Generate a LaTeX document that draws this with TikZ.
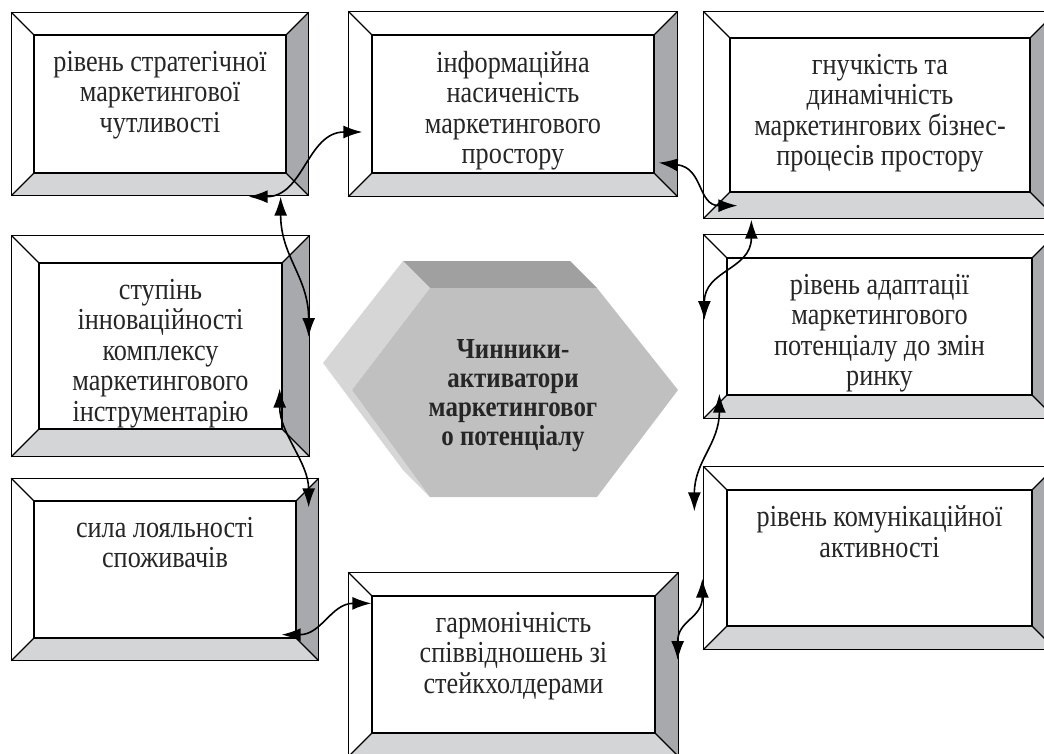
\documentclass[tikz,border=0pt]{standalone}
\usepackage{fontspec}
\setmainfont{Liberation Serif}[FakeStretch=0.86]
\usetikzlibrary{arrows.meta}
\definecolor{bevdark}{HTML}{A7A9AC}
\definecolor{bevlight}{HTML}{D4D5D7}
\definecolor{hexfront}{HTML}{C0C0C0}
\definecolor{hextop}{HTML}{A0A0A0}
\definecolor{hexside}{HTML}{D6D6D6}
\tikzset{link/.style = {line width=1.6pt,
                        arrows={Latex[length=19pt,width=13pt]-Latex[length=19pt,width=13pt]}}}
\tikzset{mbox/.style = {draw, line width=1.3pt, fill=white, inner sep=0, text=black!85,
                        font=\fontsize{30.5}{30.5}\selectfont}}
\tikzset{hub/.style = {align=center, text=black!85, font=\bfseries\fontsize{29}{29}\selectfont}}
\newcommand{\btext}[3]{\parbox[c][#2pt][t]{#1pt}{\centering\vspace*{16pt}#3}}
\newcommand{\bevframe}[2]{%
  \fill[bevdark] ([shift={(#2,-#2)}]#1.north east) -- ([shift={(#2,#2)}]#1.south east)
    -- (#1.south east) -- (#1.north east) -- cycle;
  \fill[bevlight] ([shift={(-#2,#2)}]#1.south west) -- ([shift={(#2,#2)}]#1.south east)
    -- (#1.south east) -- (#1.south west) -- cycle;
  \draw[line width=1.3pt] ([shift={(-#2,-#2)}]#1.north west) -- (#1.north west)
    ([shift={(#2,-#2)}]#1.north east) -- (#1.north east)
    ([shift={(#2,#2)}]#1.south east) -- (#1.south east)
    ([shift={(-#2,#2)}]#1.south west) -- (#1.south west);
  \draw[line width=1.6pt] ([shift={(-#2,-#2)}]#1.north west) rectangle ([shift={(#2,#2)}]#1.south east);
  \draw[line width=1.3pt] (#1.north west) rectangle (#1.south east);}

\begin{document}
\begin{tikzpicture}[x=1pt, y=-1pt]
      \useasboundingbox (0,0) rectangle (1044,753);
      \clip (0,0) rectangle (1044,753);
      % central hexagon
      \fill[hextop] (403,261) -- (570,261) -- (597,288) -- (430,288) -- cycle;
      \fill[hexside] (323,363) -- (403,261) -- (430,288) -- (352,390) -- cycle;
      \fill[hexside] (323,363) -- (352,390) -- (430,497) -- (403,470) -- cycle;
      \fill[hexfront] (352,390) -- (430,288) -- (597,288) -- (678,390) -- (597,497) -- (430,497) -- cycle;
      \node [hub] (hub) at (513,396) {Чинники-\\активатори\\маркетинговог\\о потенціалу};
      % boxes
      \node [mbox] (strat) at (160,104) {\btext{252}{138}{рівень стратегічної\\маркетингової\\чутливості}};
      \node [mbox] (info) at (513,104) {\btext{282}{138}{інформаційна\\насиченість\\маркетингового\\простору}};
      \node [mbox] (flex) at (880,115) {\btext{300}{154}{гнучкість та\\динамічність\\маркетингових бізнес-\\процесів простору}};
      \node [mbox] (innov) at (160.5,346) {\btext{243}{166}{ступінь\\інноваційності\\комплексу\\маркетингового\\інструментарію}};
      \node [mbox] (loyal) at (165,569.5) {\btext{262}{137}{сила лояльності\\споживачів}};
      \node [mbox] (harm) at (513.5,664.5) {\btext{283}{137}{гармонічність\\співвідношень зі\\стейкхолдерами}};
      \node [mbox] (adapt) at (879.5,326.5) {\btext{305}{137}{рівень адаптації\\маркетингового\\потенціалу до змін\\ринку}};
      \node [mbox] (comm) at (879.5,558) {\btext{305}{136}{рівень комунікаційної\\активності}};
      \bevframe{strat}{22}
      \bevframe{info}{23}
      \bevframe{flex}{26}
      \bevframe{innov}{27}
      \bevframe{loyal}{22}
      \bevframe{harm}{23}
      \bevframe{adapt}{23}
      \bevframe{comm}{23}
      % links
      \draw[link] ([shift={(-38,23)}]strat.south east) .. controls +(55,0) and +(-55,0) .. ([shift={(-9,28)}]info.west);
      \draw[link] ([shift={(-6,23)}]strat.south east) .. controls +(0,60) and +(0,-60) .. ([shift={(26,-9)}]innov.east);
      \draw[link] ([shift={(-3,-41)}]innov.south east) .. controls +(0,45) and +(0,-45) .. ([shift={(12,7)}]loyal.north east);
      \draw[link] ([shift={(-15,-4)}]loyal.south east) .. controls +(40,0) and +(-40,0) .. ([shift={(0,8)}]harm.north west);
      \draw[link] ([shift={(4,-11)}]info.south east) .. controls +(45,5) and +(-40,0) .. ([shift={(8,13)}]flex.south west);
      \draw[link] ([shift={(22,27)}]flex.south west) .. controls +(0,50) and +(0,-50) .. ([shift={(-22,-6.5)}]adapt.west);
      \draw[link] ([shift={(-7,-2)}]adapt.south west) .. controls +(0,50) and +(0,-50) .. ([shift={(-32,22)}]comm.north west);
      \draw[link] ([shift={(-24,-48)}]comm.south west) .. controls +(0,40) and +(0,-40) .. ([shift={(22,-4.5)}]harm.east);
\end{tikzpicture}
\end{document}
